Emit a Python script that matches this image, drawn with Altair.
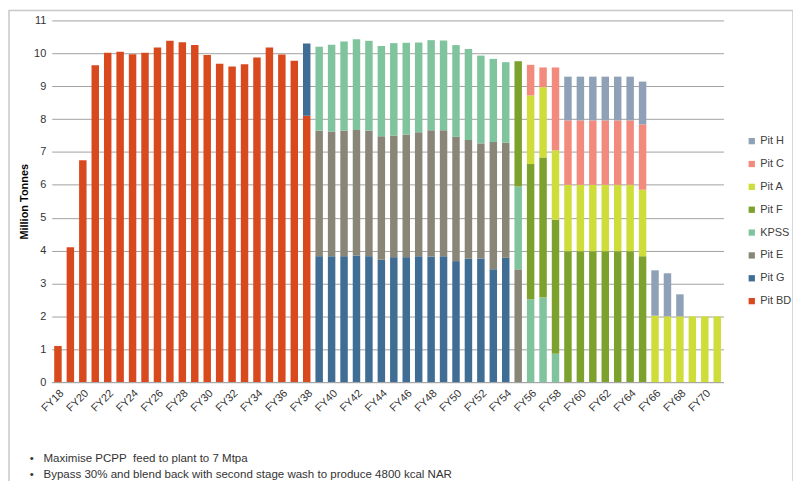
import altair as alt
import pandas as pd

years = [f"FY{y}" for y in range(18, 72)]

pit_bd = [1.1, 4.1, 6.75, 9.64, 10.02, 10.05, 9.97, 10.02, 10.18, 10.38, 10.34,
          10.25, 9.95, 9.68, 9.6, 9.67, 9.87, 10.18, 9.96, 9.77, 8.1] + [0] * 33
pit_g = [0] * 20 + [2.2] + [3.83, 3.83, 3.83, 3.85, 3.83, 3.72, 3.80, 3.80, 3.83,
                            3.82, 3.83, 3.68, 3.75, 3.76, 3.43, 3.78] + [0] * 17
pit_e = [0] * 21 + [3.82, 3.79, 3.82, 3.82, 3.82, 3.76, 3.70, 3.73, 3.77, 3.84,
                    3.83, 3.78, 3.61, 3.50, 3.87, 3.50, 3.43] + [0] * 16
kpss = [0] * 21 + [2.55, 2.64, 2.71, 2.76, 2.73, 2.74, 2.81, 2.79, 2.73, 2.74,
                   2.73, 2.79, 2.77, 2.67, 2.53, 2.45, 2.52, 2.52, 2.57, 0.86] + [0] * 13
pit_f = [0] * 37 + [3.81, 4.11, 4.26, 4.08, 3.98, 3.98, 3.98, 3.98, 3.98, 3.98,
                    3.83] + [0] * 6
pit_a = [0] * 38 + [2.09, 2.14, 2.11, 2.02, 2.02, 2.02, 2.02, 2.02, 2.02, 2.02,
                    2.02, 2.0, 2.0, 2.0, 2.0, 2.0]
pit_c = [0] * 38 + [0.93, 0.6, 2.52, 1.96, 1.96, 1.96, 1.96, 1.96, 1.96, 1.99] + [0] * 6
pit_h = [0] * 41 + [1.33, 1.33, 1.33, 1.33, 1.33, 1.33, 1.30, 1.38, 1.31, 0.67] + [0] * 3

series_names = ["Pit BD", "Pit G", "Pit E", "KPSS", "Pit F", "Pit A", "Pit C", "Pit H"]
series_colors = ["#D8491E", "#3F6D93", "#898677", "#80C49E", "#7DA12D", "#CEDD3A",
                 "#F28B7D", "#8FA1B6"]
series_values = [pit_bd, pit_g, pit_e, kpss, pit_f, pit_a, pit_c, pit_h]

note_1 = "\u2022\u00a0\u00a0\u00a0Maximise PCPP\u00a0\u00a0feed to plant to 7 Mtpa"
note_2 = "\u2022\u00a0\u00a0\u00a0Bypass 30% and blend back with second stage wash to produce 4800 kcal NAR"

rows = []
for idx, (name, vals) in enumerate(zip(series_names, series_values)):
    for yr, v in zip(years, vals):
        if v > 0:
            rows.append({"year": yr, "series": name, "value": v, "stack": idx})
df = pd.DataFrame(rows)

legend_order = list(reversed(series_names))
legend_colors = list(reversed(series_colors))

bars = alt.Chart(df).mark_bar().encode(
    x=alt.X("year:N", sort=years,
            scale=alt.Scale(paddingInner=0.4, paddingOuter=0.2),
            axis=alt.Axis(title=None, values=years[::2], labelAngle=-45, ticks=False,
                          domainColor="#a6a6a6", labelFontSize=11, labelColor="#333333",
                          labelPadding=5, grid=False, labelOverlap=False)),
    y=alt.Y("value:Q", stack="zero",
            scale=alt.Scale(domain=[0, 11], nice=False),
            axis=alt.Axis(title="Million Tonnes", values=list(range(0, 12)), grid=True,
                          gridColor="#a0a0a0", ticks=False, domain=False,
                          labelFontSize=11, labelColor="#333333", titleFontSize=11,
                          titleFontWeight="bold", titleColor="#000000",
                          labelPadding=6, titlePadding=4)),
    color=alt.Color("series:N",
                    scale=alt.Scale(domain=legend_order, range=legend_colors),
                    legend=alt.Legend(title=None, orient="none", legendX=699, legendY=116,
                                      symbolType="square", symbolSize=40,
                                      labelFontSize=11, rowPadding=11, labelOffset=3,
                                      labelColor="#404040", symbolStrokeWidth=0)),
    order=alt.Order("stack:Q", sort="ascending"),
)

one_row = alt.Data(values=[{}])

frame = alt.Chart(one_row).mark_rect(
    fillOpacity=0, stroke="#c8c8c8", strokeWidth=1.5
).encode(
    x=alt.value(-43), x2=alt.value(746), y=alt.value(-10), y2=alt.value(520)
)

text_1 = alt.Chart(one_row).mark_text(
    align="left", baseline="middle", fontSize=11.6, color="#333333"
).encode(x=alt.value(-22), y=alt.value(441), text=alt.value(note_1))

text_2 = alt.Chart(one_row).mark_text(
    align="left", baseline="middle", fontSize=11.6, color="#333333"
).encode(x=alt.value(-22), y=alt.value(457), text=alt.value(note_2))

chart = alt.layer(frame, bars, text_1, text_2).properties(
    width=676,
    height=364,
    autosize=alt.AutoSizeParams(type="none"),
    padding={"left": 44, "top": 11, "right": 70, "bottom": 98},
).configure(font="Liberation Sans").configure_view(stroke=None)

chart.save("out.html", embed_options={"renderer": "svg", "actions": False})
